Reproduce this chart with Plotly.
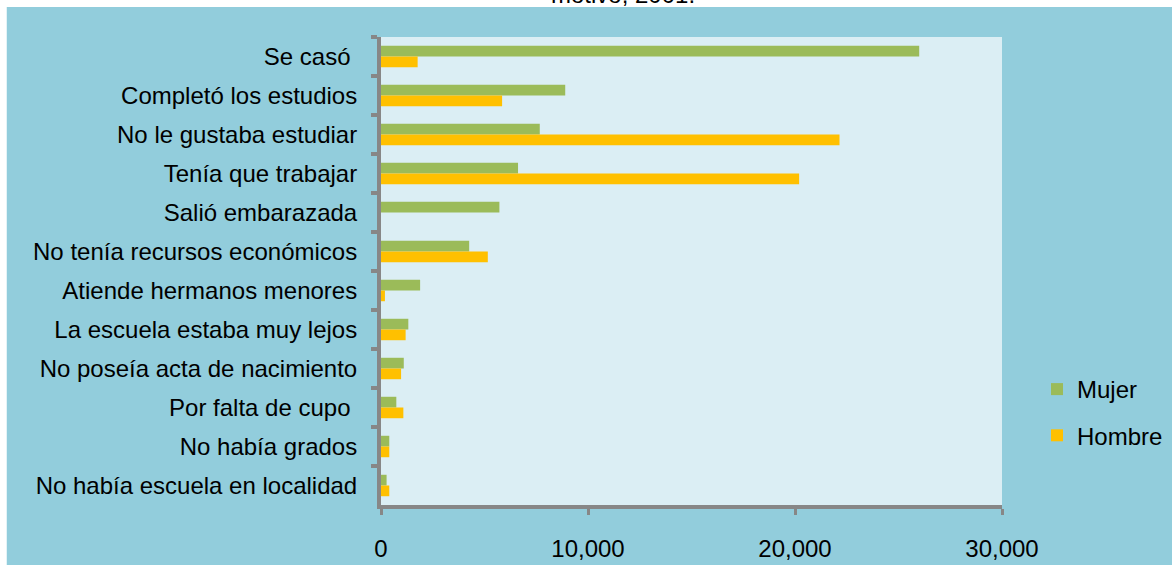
import plotly.graph_objects as go

categories = [
    "Se casó\u00a0",
    "Completó los estudios",
    "No le gustaba estudiar",
    "Tenía que trabajar",
    "Salió embarazada",
    "No tenía recursos económicos",
    "Atiende hermanos menores",
    "La escuela estaba muy lejos",
    "No poseía acta de nacimiento",
    "Por falta de cupo\u00a0",
    "No había grados",
    "No había escuela en localidad",
]
mujer = [26000, 8900, 7670, 6620, 5720, 4260, 1890, 1320, 1100, 740, 400, 270]
hombre = [1770, 5850, 22150, 20200, 0, 5160, 190, 1190, 970, 1080, 400, 400]
x_ticks = [0, 10000, 20000, 30000]
x_tick_labels = ["0", "10,000", "20,000", "30,000"]

FONT = "Liberation Sans, Arial, sans-serif"
AXIS_GRAY = "#878787"
OUTER_BG = "#92CDDC"
PLOT_BG = "#DBEEF4"

W, H = 1172, 569
L, R, T, B = 381, 170.4, 37, 64
PW = W - L - R
PH = H - T - B


def px_x(x):
    return (x - L) / PW


def px_y(y):
    return (H - B - y) / PH


fig = go.Figure()
fig.add_trace(go.Bar(
    y=categories, x=mujer, orientation="h", name="Mujer",
    marker=dict(color="#9BBB59", line=dict(width=0)),
    legendgroup="m",
))
fig.add_trace(go.Bar(
    y=categories, x=hombre, orientation="h", name="Hombre",
    marker=dict(color="#FFC000", line=dict(width=0)),
    legendgroup="h",
))

# white border strips around the chart panel
fig.add_shape(type="rect", xref="paper", yref="paper", x0=-1, x1=2,
              y0=px_y(7), y1=1.5, fillcolor="white", line_width=0, layer="below")
fig.add_shape(type="rect", xref="paper", yref="paper", x0=-1, x1=px_x(7),
              y0=-1, y1=2, fillcolor="white", line_width=0, layer="below")
fig.add_shape(type="rect", xref="paper", yref="paper", x0=-1, x1=2,
              y0=-1, y1=px_y(565), fillcolor="white", line_width=0, layer="below")

# cut-off chart title at the very top
fig.add_annotation(
    text="motivo, 2001.", xref="paper", yref="paper",
    x=px_x(623), y=px_y(10), xanchor="center", yanchor="bottom",
    showarrow=False, font=dict(family=FONT, size=24, color="black"),
)

fig.update_layout(
    width=W, height=H,
    margin=dict(l=L, r=R, t=T, b=B, pad=0),
    paper_bgcolor=OUTER_BG,
    plot_bgcolor=PLOT_BG,
    barmode="group",
    bargap=0.45,
    bargroupgap=0,
    font=dict(family=FONT, size=24, color="black"),
    showlegend=True,
    legend=dict(
        xref="container", yref="container",
        x=1037 / W, xanchor="left",
        y=(H - 367) / H, yanchor="top",
        bgcolor="rgba(0,0,0,0)",
        font=dict(family=FONT, size=24, color="black"),
        tracegroupgap=12,
        traceorder="grouped",
    ),
    xaxis=dict(
        range=[0, 30000],
        tickvals=x_ticks, ticktext=x_tick_labels,
        showgrid=False, zeroline=False,
        showline=True, linecolor=AXIS_GRAY, linewidth=4,
        ticks="outside", ticklen=6, tickwidth=3, tickcolor=AXIS_GRAY,
        ticklabelstandoff=13,
        automargin=False,
        tickfont=dict(family=FONT, size=24, color="black"),
    ),
    yaxis=dict(
        autorange="reversed",
        showgrid=False, zeroline=False,
        showline=True, linecolor=AXIS_GRAY, linewidth=4,
        ticks="outside", ticklen=6, tickwidth=4, tickcolor=AXIS_GRAY,
        tickson="boundaries",
        ticklabelstandoff=15,
        automargin=False,
        tickfont=dict(family=FONT, size=24, color="black"),
    ),
)

fig.write_html(
    "out.html",
    config={"displayModeBar": False},
    post_script="document.body.style.margin='0';document.body.style.overflow='hidden';",
)
